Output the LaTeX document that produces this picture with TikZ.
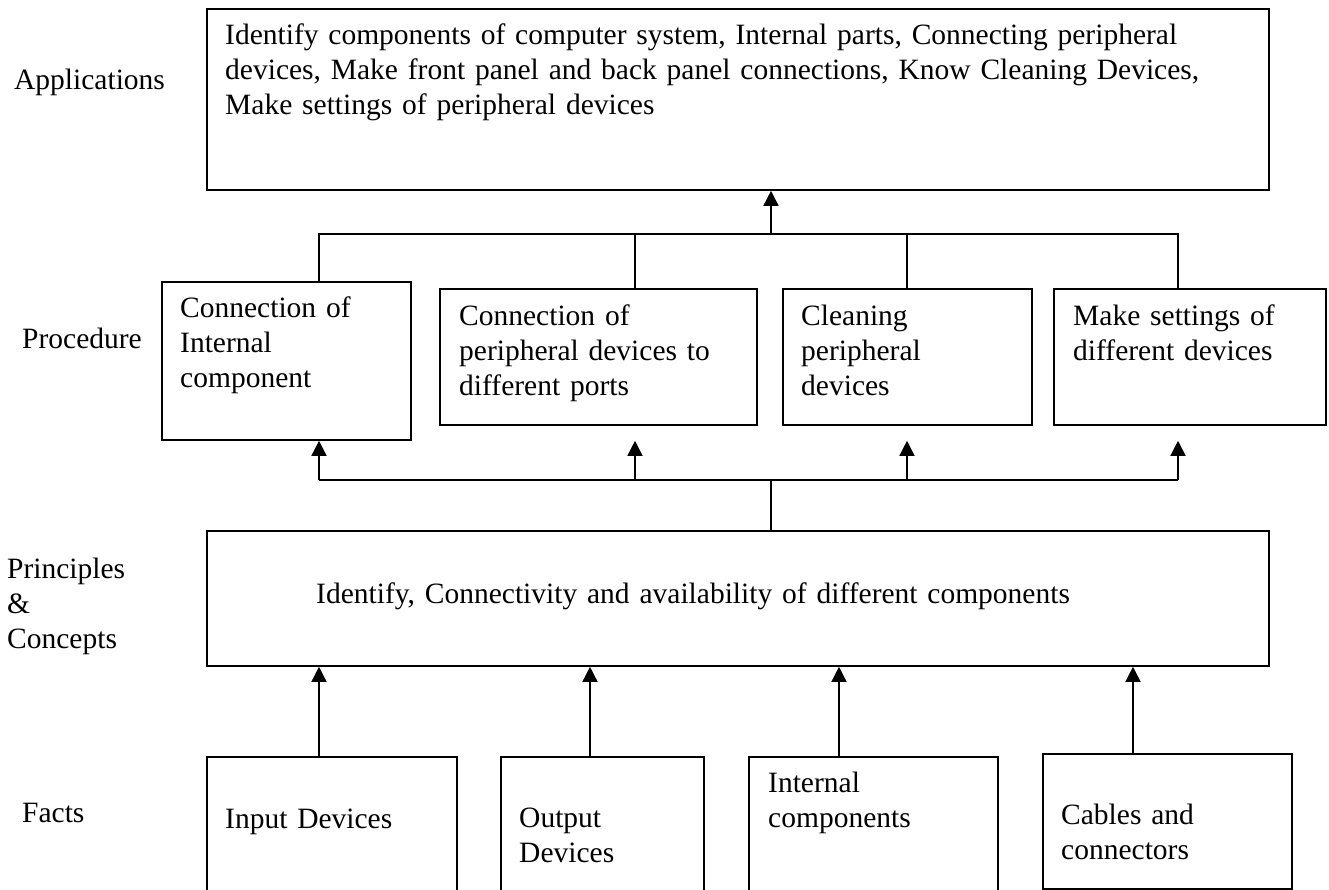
\documentclass[tikz,border=0pt]{standalone}
\usepackage{fontspec}
\setmainfont{Liberation Serif}
\usetikzlibrary{arrows.meta}

\tikzset{
  box/.style={draw, line width=1.8pt, inner sep=0pt, anchor=north west},
  txt/.style={inner sep=0pt, anchor=base west, text width=#1,
              font=\fontsize{29.5}{35}\selectfont},
  txt/.default=400pt,
  link/.style={line width=1.5pt},
  arr/.style={link, -{Triangle[length=15pt,width=15pt]}},
}

\begin{document}
\begin{tikzpicture}[x=1pt, y=-1pt]
  \useasboundingbox (0,0) rectangle (1329,890);
  \fill[white] (0,0) rectangle (1329,890);
  \clip (0,0) rectangle (1329,890);

  % level labels on the left
  \node[txt] (lApp)  at (14,90)  {Applications};
  \node[txt] (lProc) at (22,348) {Procedure};
  \node[txt] (lPrin) at (7,578)  {Principles\\\&\\Concepts};
  \node[txt] (lFact) at (22,822) {Facts};

  % applications
  \node[box, minimum width=1062pt, minimum height=181pt] (app) at (206,8) {};
  \node[txt=1040pt] (appT) at (225,45)
    {Identify components of computer system, Internal parts, Connecting peripheral\\
     devices, Make front panel and back panel connections, Know Cleaning Devices,\\
     Make settings of peripheral devices};

  % procedures
  \node[box, minimum width=249pt, minimum height=158pt] (p1) at (161,281) {};
  \node[box, minimum width=317pt, minimum height=136pt] (p2) at (439,288) {};
  \node[box, minimum width=249pt, minimum height=136pt] (p3) at (782,288) {};
  \node[box, minimum width=272pt, minimum height=136pt] (p4) at (1053,288) {};
  \node[txt=235pt] (p1T) at (180,317)  {Connection of\\Internal\\component};
  \node[txt=296pt] (p2T) at (459,325)  {Connection of\\peripheral devices to\\different ports};
  \node[txt=230pt] (p3T) at (801,325)  {Cleaning\\peripheral\\devices};
  \node[txt=250pt] (p4T) at (1073,325) {Make settings of\\different devices};

  % principles and concepts
  \node[box, minimum width=1062pt, minimum height=135pt] (pc) at (206,530) {};
  \node[txt=940pt] (pcT) at (316,603)
    {Identify, Connectivity and availability of different components};

  % facts
  \node[box, minimum width=250pt, minimum height=150pt] (f1) at (206,756) {};
  \node[box, minimum width=203pt, minimum height=150pt] (f2) at (500,756) {};
  \node[box, minimum width=249pt, minimum height=150pt] (f3) at (748,756) {};
  \node[box, minimum width=249pt, minimum height=135pt] (f4) at (1042,753) {};
  \node[txt=220pt] (f1T) at (225,828)  {Input Devices};
  \node[txt=180pt] (f2T) at (519,827)  {Output\\Devices};
  \node[txt=220pt] (f3T) at (768,792)  {Internal\\components};
  \node[txt=220pt] (f4T) at (1061,824) {Cables and\\connectors};

  % upper bus: procedures joined into applications
  \coordinate (t1) at (319,234);
  \coordinate (t2) at (635,234);
  \coordinate (t3) at (907,234);
  \coordinate (t4) at (1178,234);
  \coordinate (tm) at (771,234);
  \draw[link] (t1 |- p1.north) -- (t1) -- (t4) -- (t4 |- p4.north);
  \draw[link] (t2) -- (t2 |- p2.north);
  \draw[link] (t3) -- (t3 |- p3.north);
  \draw[arr] (tm) -- (tm |- app.south);

  % lower bus: principles feeding every procedure
  \coordinate (b1) at (319,480);
  \coordinate (b2) at (635,480);
  \coordinate (b3) at (907,480);
  \coordinate (b4) at (1178,480);
  \coordinate (bm) at (771,480);
  \draw[link] (bm |- pc.north) -- (bm);
  \draw[link] (b1) -- (b4);
  \draw[arr] (b1) -- (b1 |- p1.south);
  \draw[arr] (b2) -- (b2 |- p1.south);
  \draw[arr] (b3) -- (b3 |- p1.south);
  \draw[arr] (b4) -- (b4 |- p1.south);

  % facts feeding principles
  \coordinate (a1) at (319,700);
  \coordinate (a2) at (590,700);
  \coordinate (a3) at (839,700);
  \coordinate (a4) at (1133,700);
  \draw[arr] (a1 |- f1.north) -- (a1 |- pc.south);
  \draw[arr] (a2 |- f2.north) -- (a2 |- pc.south);
  \draw[arr] (a3 |- f3.north) -- (a3 |- pc.south);
  \draw[arr] (a4 |- f4.north) -- (a4 |- pc.south);
\end{tikzpicture}
\end{document}
